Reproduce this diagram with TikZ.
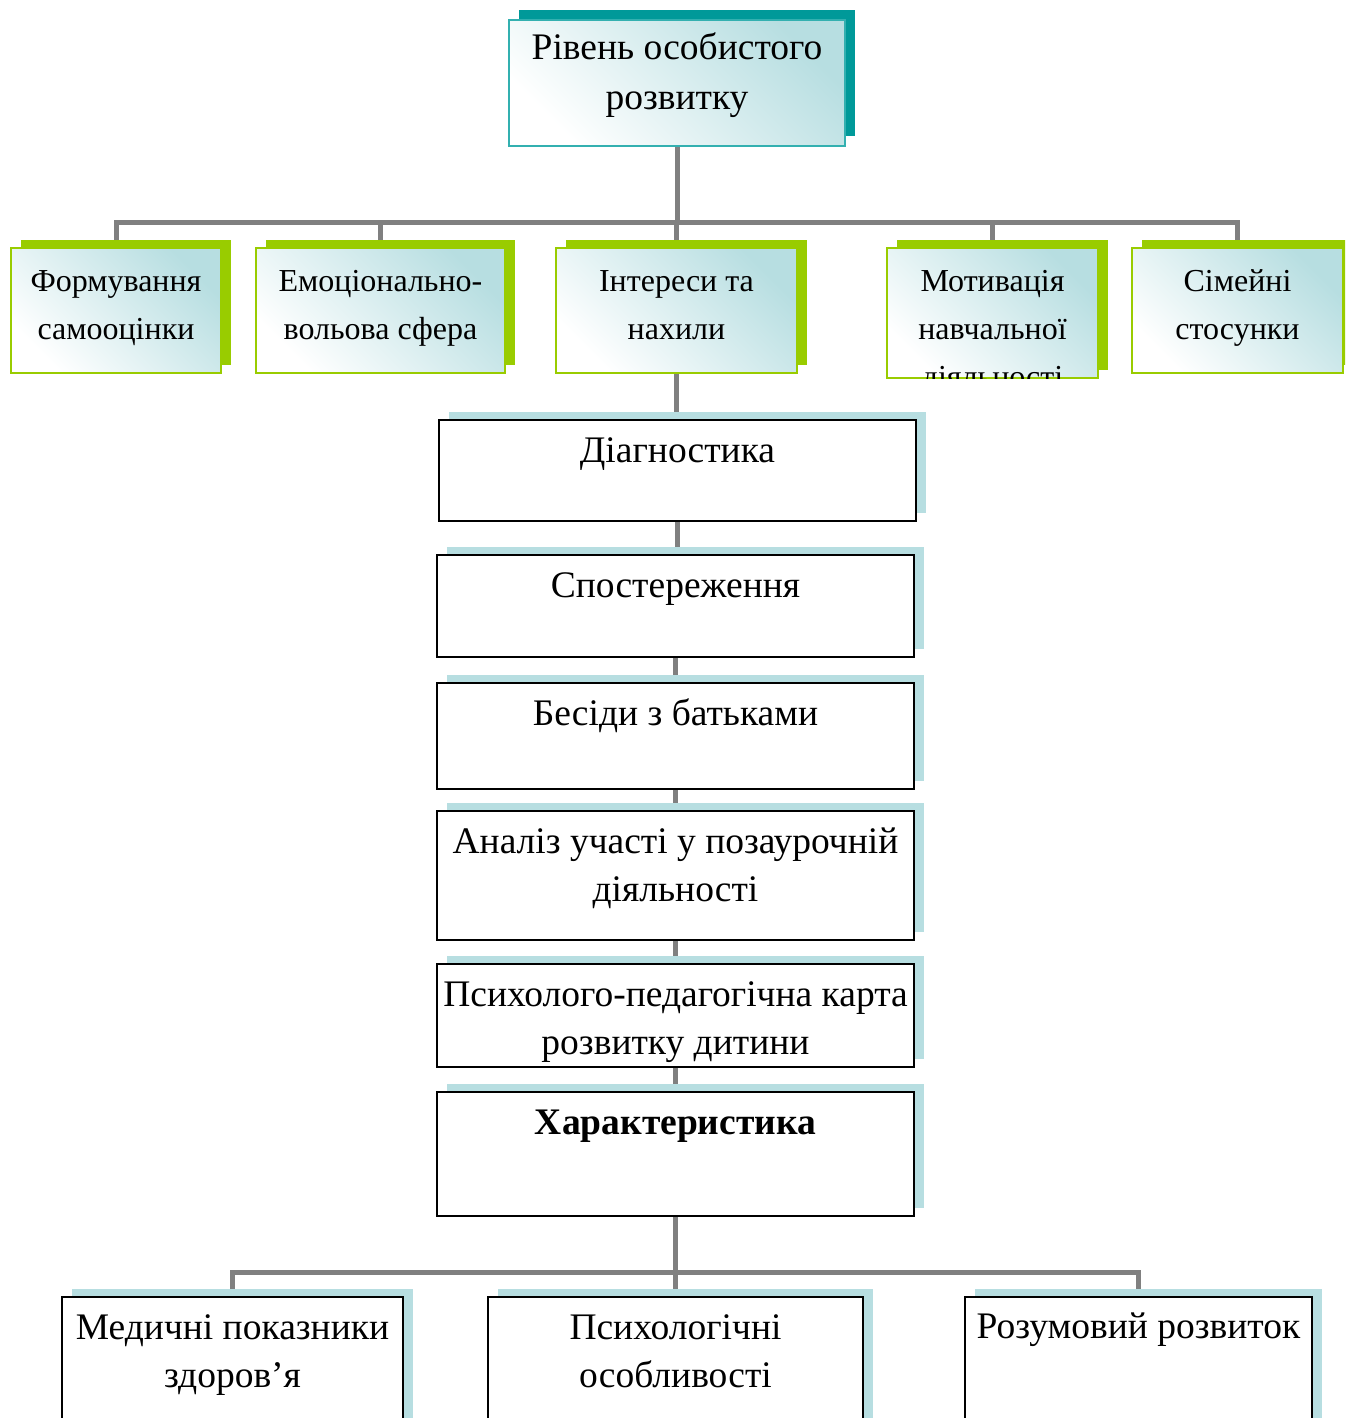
\documentclass[tikz,border=0pt]{standalone}
\usepackage{fontspec}
\setmainfont{Liberation Serif}
\usetikzlibrary{shadows,backgrounds}
\definecolor{tealc}{HTML}{009999}
\definecolor{tealb}{HTML}{33B0B0}
\definecolor{limec}{HTML}{99CC00}
\definecolor{skyc}{HTML}{B7DEE1}
\definecolor{connc}{HTML}{808080}
\tikzset{
  conn/.style={draw=connc, line width=5pt},
  topbox/.style={draw=tealb, line width=1.5pt, top color=skyc, bottom color=white, shading angle=-45,
    general shadow={fill=tealc, shadow xshift=10pt, shadow yshift=10pt}, inner sep=0pt},
  greenbox/.style={draw=limec, line width=2pt, top color=skyc, bottom color=white, shading angle=-45,
    general shadow={fill=limec, shadow xshift=10pt, shadow yshift=8pt}, inner sep=0pt},
  midbox/.style={draw=black, line width=2.2pt, fill=white,
    general shadow={fill=skyc, shadow xshift=10pt, shadow yshift=8pt}, inner sep=0pt},
  bigtxt/.style={font=\fontsize{37.5}{50}\selectfont, align=center, inner sep=0pt, anchor=base},
  midtxt/.style={font=\fontsize{37.5}{48}\selectfont, align=center, inner sep=0pt, anchor=base},
  greentxt/.style={font=\fontsize{32}{48}\selectfont, align=center, inner sep=0pt, anchor=base},
}
\begin{document}
\begin{tikzpicture}[x=1pt, y=-1pt]
\clip (0,0) rectangle (1345,1418);
% nodes: top
\node[topbox, minimum width=336pt, minimum height=126pt] (top) at (677,83) {};
% green row
\node[greenbox, minimum width=210pt, minimum height=125pt] (g1) at (116,310.5) {};
\node[greenbox, minimum width=249pt, minimum height=125pt] (g2) at (380.5,310.5) {};
\node[greenbox, minimum width=241pt, minimum height=125pt] (g3) at (676.5,310.5) {};
\node[greenbox, minimum width=211pt, minimum height=130pt] (g4) at (992.5,313) {};
\node[greenbox, minimum width=211pt, minimum height=125pt] (g5) at (1237.5,310.5) {};
% middle column
\node[midbox, minimum width=477pt, minimum height=101pt] (d1) at (677.5,470.5) {};
\node[midbox, minimum width=477pt, minimum height=102pt] (d2) at (675.5,606) {};
\node[midbox, minimum width=477pt, minimum height=106pt] (d3) at (675.5,736) {};
\node[midbox, minimum width=477pt, minimum height=129pt] (d4) at (675.5,875.5) {};
\node[midbox, minimum width=477pt, minimum height=103pt] (d5) at (675.5,1015.5) {};
\node[midbox, minimum width=477pt, minimum height=124pt] (d6) at (675.5,1154) {};
% bottom row
\node[midbox, minimum width=341pt, minimum height=150pt] (b1) at (232.5,1372) {};
\node[midbox, minimum width=375pt, minimum height=150pt] (b2) at (675.5,1372) {};
\node[midbox, minimum width=347pt, minimum height=150pt] (b3) at (1138.5,1372) {};

% connectors (behind boxes)
\begin{scope}[on background layer]
\coordinate (busA) at (677,222);
\coordinate (busB) at (675.5,1272);
\draw[conn] (top.south) -- (busA);
\foreach \g in {g1,g2,g3,g4,g5} {\draw[conn] (\g.north) |- (busA);}
\draw[conn] (g3.south) -- (g3.south |- d1.north);
\draw[conn] (d1.south) -- (d1.south |- d2.north);
\draw[conn] (d2.south) -- (d3.north);
\draw[conn] (d3.south) -- (d4.north);
\draw[conn] (d4.south) -- (d5.north);
\draw[conn] (d5.south) -- (d6.north);
\draw[conn] (d6.south) -- (busB);
\foreach \b in {b1,b2,b3} {\draw[conn] (\b.north) |- (busB);}
\end{scope}

% texts (anchor base = baseline of last line)
\node[bigtxt] (topT) at (677,109.5) {Рівень особистого\\розвитку};
\node[greentxt] (g1T) at (116,339) {Формування\\самооцінки};
\node[greentxt] (g2T) at (380.5,339) {Емоціонально-\\вольова сфера};
\node[greentxt] (g3T) at (676.5,339) {Інтереси та\\нахили};
\begin{scope}
\clip (g4.north west) rectangle ([yshift=1pt]g4.south east);
\node[greentxt] (g4T) at (992.5,387) {Мотивація\\навчальної\\діяльності};
\end{scope}
\node[greentxt] (g5T) at (1237.5,339) {Сімейні\\стосунки};
\node[midtxt] (d1T) at (677.5,462) {Діагностика};
\node[midtxt] (d2T) at (675.5,597) {Спостереження};
\node[midtxt] (d3T) at (675.5,725) {Бесіди з батьками};
\node[midtxt] (d4T) at (675.5,901.5) {Аналіз участі у позаурочній\\діяльності};
\node[midtxt] (d5T) at (675.5,1054.5) {Психолого-педагогічна карта\\розвитку дитини};
\node[midtxt, font=\fontsize{37.5}{48}\selectfont\bfseries] (d6T) at (675.5,1134) {Характеристика};
\node[midtxt] (b1T) at (232.5,1387.5) {Медичні показники\\здоров’я};
\node[midtxt] (b2T) at (675.5,1387.5) {Психологічні\\особливості};
\node[midtxt] (b3T) at (1138.5,1338) {Розумовий розвиток};
\end{tikzpicture}
\end{document}
